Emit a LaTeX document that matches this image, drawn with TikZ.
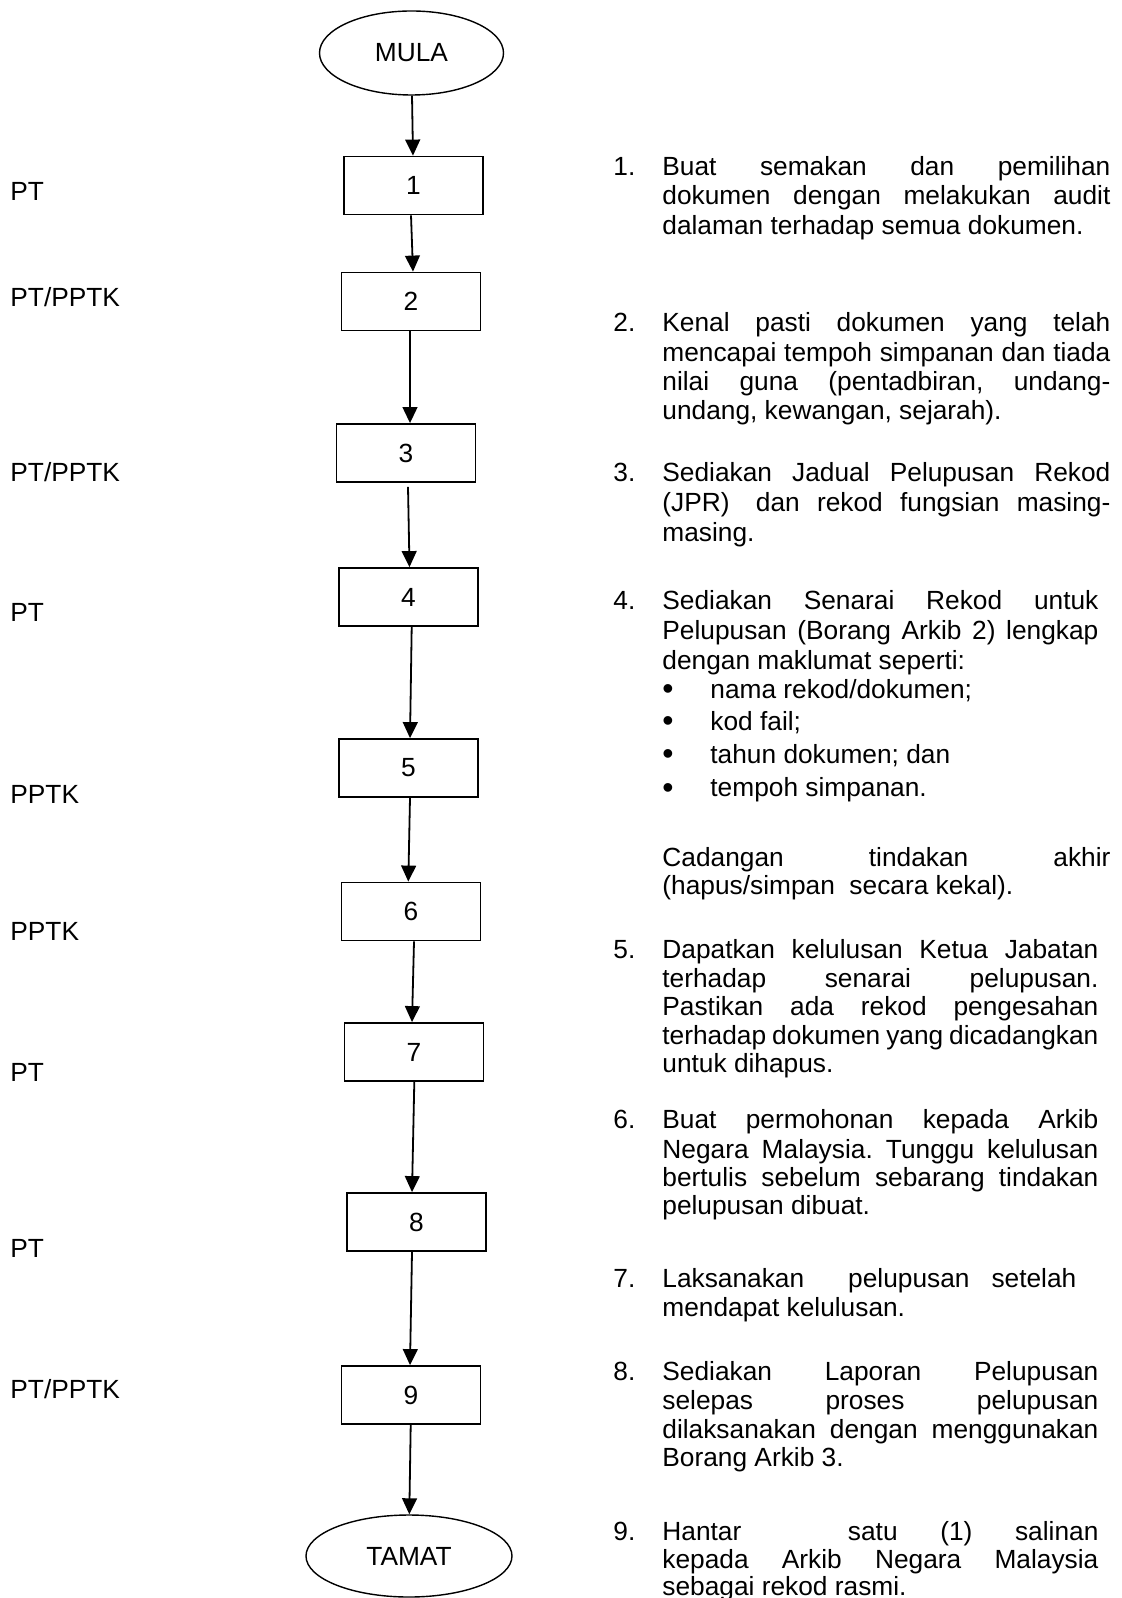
\documentclass[tikz,border=0pt]{standalone}
\usepackage{fontspec}
\setmainfont{Liberation Sans}
\usetikzlibrary{arrows.meta,shapes.geometric}
% one justified line of a paragraph
\newcommand\justline[2]{\makebox[#1][s]{#2}}
% list bullet
\newcommand\listdot{{\fontsize{16}{16}\selectfont\raisebox{-0.8pt}{•}}}
\frenchspacing
\begin{document}
\begin{tikzpicture}[x=0.5pt,y=-0.5pt,
  font=\fontsize{13.15}{15}\selectfont,
  stepbox/.style={draw,line width=0.9pt,minimum width=69.5pt,minimum height=29pt,inner sep=0pt},
  terminal/.style={draw,ellipse,line width=0.7pt,inner sep=0pt},
  flow/.style={line width=0.9pt,-{Triangle[length=8pt,width=7.4pt]}},
  txt/.style={anchor=base west,inner sep=0pt},
]
\useasboundingbox (0,0) rectangle (1121,1598);

% flow chart
\node[terminal,minimum width=92pt,minimum height=42pt] (mula) at (411.5,53) {MULA};
\node[stepbox] (b1) at (413.5,185.5) {1};
\node[stepbox] (b2) at (411,301.5) {2};
\node[stepbox] (b3) at (406,453) {3};
\node[stepbox] (b4) at (408.5,597) {4};
\node[stepbox] (b5) at (408.5,768) {5};
\node[stepbox] (b6) at (411,911.5) {6};
\node[stepbox] (b7) at (414,1052) {7};
\node[stepbox] (b8) at (416.5,1222) {8};
\node[stepbox] (b9) at (411,1395) {9};
\node[terminal,minimum width=103pt,minimum height=41pt] (tamat) at (409,1556) {TAMAT};

\draw[flow] ([xshift=0.25pt]mula.south) -- ([xshift=-0.25pt]b1.north);
\draw[flow] ([xshift=-1.25pt]b1.south) -- ([xshift=1pt]b2.north);
\draw[flow] ([xshift=-0.5pt]b2.south) -- ([xshift=2pt]b3.north);
\draw[flow] ([xshift=1pt,yshift=-2pt]b3.south) -- ([xshift=0.5pt]b4.north);
\draw[flow] ([xshift=1.6pt]b4.south) -- ([xshift=0.75pt]b5.north);
\draw[flow] ([xshift=0.75pt]b5.south) -- ([xshift=-1.35pt]b6.north);
\draw[flow] ([xshift=1.5pt]b6.south) -- ([xshift=-1pt]b7.north);
\draw[flow] ([xshift=0.15pt]b7.south) -- ([xshift=-2.25pt]b8.north);
\draw[flow] ([xshift=-2.25pt]b8.south) -- ([xshift=-0.5pt]b9.north);
\draw[flow] ([xshift=-0.15pt]b9.south) -- ([xshift=0.15pt]tamat.north);

% responsible parties
\node[txt] (r1) at (10,201) {PT};
\node[txt] (r2) at (10,307) {PT/PPTK};
\node[txt] (r3) at (10,482) {PT/PPTK};
\node[txt] (r4) at (10,621) {PT};
\node[txt] (r5) at (10,803) {PPTK};
\node[txt] (r6) at (10,940) {PPTK};
\node[txt] (r7) at (10,1081) {PT};
\node[txt] (r8) at (10,1257) {PT};
\node[txt] (r9) at (10,1398) {PT/PPTK};

% step 1
\node[txt] (n1) at (613,175.5) {1.};
\node[txt] (l1a) at (662,175.5) {\justline{224pt}{Buat semakan dan pemilihan}};
\node[txt] (l1b) at (662,205) {\justline{224pt}{dokumen dengan melakukan audit}};
\node[txt] (l1c) at (662,234.5) {dalaman terhadap semua dokumen.};

% step 2
\node[txt] (n2) at (613,332) {2.};
\node[txt] (l2a) at (662,332) {\justline{224pt}{Kenal pasti dokumen yang telah}};
\node[txt] (l2b) at (662,362) {\justline{224pt}{mencapai tempoh simpanan dan tiada}};
\node[txt] (l2c) at (662,391) {\justline{224pt}{nilai guna (pentadbiran, undang-}};
\node[txt] (l2d) at (662,420) {undang, kewangan, sejarah).};

% step 3
\node[txt] (n3) at (613,482) {3.};
\node[txt] (l3a) at (662,482) {\justline{224pt}{Sediakan Jadual Pelupusan Rekod}};
\node[txt] (l3b) at (662,511.5) {\justline{224pt}{(JPR)\hspace{4.5pt} dan rekod fungsian masing-}};
\node[txt] (l3c) at (662,541) {masing.};

% step 4
\node[txt] (n4) at (613,609.5) {4.};
\node[txt] (l4a) at (662,609.5) {\justline{218pt}{Sediakan Senarai Rekod untuk}};
\node[txt] (l4b) at (662,639.5) {\justline{218pt}{Pelupusan (Borang Arkib 2) lengkap}};
\node[txt] (l4c) at (662,669) {dengan maklumat seperti:};
\node[txt] (d4a) at (662,698) {\listdot};
\node[txt] (l4d) at (710,698) {nama rekod/dokumen;};
\node[txt] (d4b) at (662,730) {\listdot};
\node[txt] (l4e) at (710,730) {kod fail;};
\node[txt] (d4c) at (662,763) {\listdot};
\node[txt] (l4f) at (710,763) {tahun dokumen; dan};
\node[txt] (d4d) at (662,796.5) {\listdot};
\node[txt] (l4g) at (710,796.5) {tempoh simpanan.};
\node[txt] (l4h) at (662,866) {\justline{224pt}{Cadangan tindakan akhir}};
\node[txt] (l4i) at (662,894) {(hapus/simpan\ \ secara kekal).};

% step 5
\node[txt] (n5) at (613,958) {5.};
\node[txt] (l5a) at (662,958) {\justline{218pt}{Dapatkan kelulusan Ketua Jabatan}};
\node[txt] (l5b) at (662,987) {\justline{218pt}{terhadap senarai pelupusan.}};
\node[txt] (l5c) at (662,1015) {\justline{218pt}{Pastikan ada rekod pengesahan}};
\node[txt] (l5d) at (662,1044) {\justline{218pt}{terhadap dokumen yang dicadangkan}};
\node[txt] (l5e) at (662,1072) {untuk dihapus.};

% step 6
\node[txt] (n6) at (613,1128) {6.};
\node[txt] (l6a) at (662,1128) {\justline{218pt}{Buat permohonan kepada Arkib}};
\node[txt] (l6b) at (662,1158) {\justline{218pt}{Negara Malaysia. Tunggu kelulusan}};
\node[txt] (l6c) at (662,1186) {\justline{218pt}{bertulis sebelum sebarang tindakan}};
\node[txt] (l6d) at (662,1214) {pelupusan dibuat.};

% step 7
\node[txt] (n7) at (613,1287) {7.};
\node[txt] (l7a) at (662,1287) {\justline{207pt}{Laksanakan\ \ pelupusan setelah}};
\node[txt] (l7b) at (662,1316) {mendapat kelulusan.};

% step 8
\node[txt] (n8) at (613,1380) {8.};
\node[txt] (l8a) at (662,1380) {\justline{218pt}{Sediakan Laporan Pelupusan}};
\node[txt] (l8b) at (662,1409) {\justline{218pt}{selepas proses pelupusan}};
\node[txt] (l8c) at (662,1438) {\justline{218pt}{dilaksanakan dengan menggunakan}};
\node[txt] (l8d) at (662,1466) {Borang Arkib 3.};

% step 9
\node[txt] (n9) at (613,1540) {9.};
\node[txt] (l9a) at (662,1540) {\justline{218pt}{Hantar\hspace{32pt} satu (1) salinan}};
\node[txt] (l9b) at (662,1568) {\justline{218pt}{kepada Arkib Negara Malaysia}};
\node[txt] (l9c) at (662,1595) {sebagai rekod rasmi.};
\end{tikzpicture}
\end{document}
